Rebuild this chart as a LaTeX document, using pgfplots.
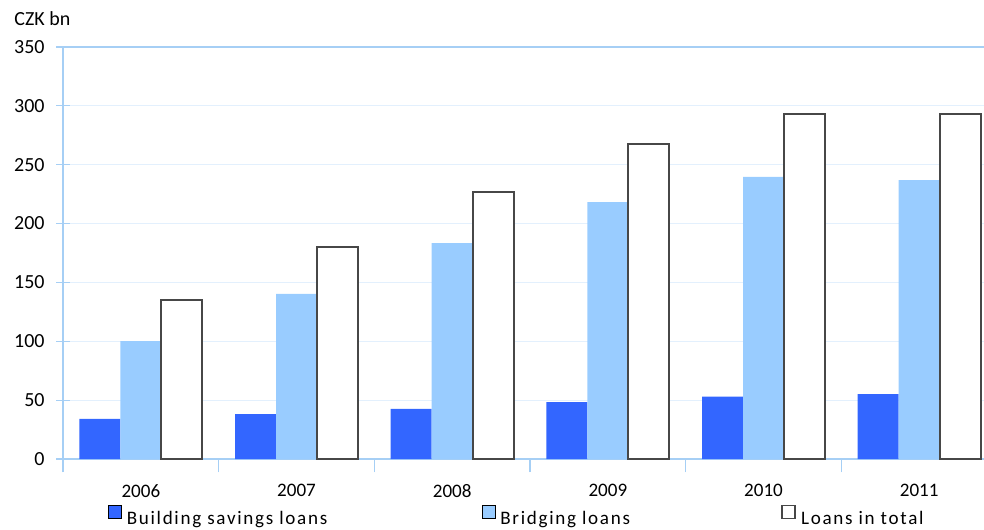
\documentclass[border=0pt]{standalone}
\usepackage{fontspec}
\setmainfont{Carlito}
\newfontfamily\legfont[LetterSpace=9]{Carlito}
\usepackage{pgfplots}
\pgfplotsset{compat=1.18}

\definecolor{bsav}{HTML}{3366FF}
\definecolor{bridge}{HTML}{99CCFF}
\definecolor{axblue}{HTML}{A6CFF5}
\definecolor{gridblue}{HTML}{E3F0FD}
\definecolor{bord}{HTML}{474747}

\begin{document}
\begin{tikzpicture}
\begin{axis}[
    scale only axis,
    width=700.5pt, height=309pt,
    xmin=-0.5, xmax=5.5,
    ymin=0, ymax=350,
    clip mode=individual,
    font=\fontsize{14.3}{16}\selectfont,
    /pgf/number format/assume math mode=true,
    axis line style={axblue, line width=1pt},
    tick style={axblue, line width=0.8pt},
    tick align=center,
    major tick length=10pt,
    ytick={0,50,...,350},
    ytick pos=left,
    yticklabel style={xshift=-5.25pt, font=\fontsize{15}{16}\selectfont},
    xtick pos=bottom,
    ymajorgrids,
    major grid style={gridblue, line width=0.8pt},
    xtick={-0.5,0.5,...,5.5},
    xticklabels={},
    extra x ticks={0,1,2,3,4,5},
    extra x tick labels={2006,2007,2008,2009,2010,2011},
    extra x tick style={major tick length=0pt, grid=none,
        tick label style={yshift=-15.5pt}},
    ybar,
    bar width=0.2633,
    legend columns=3,
    legend style={at={(0.04818,-0.14)}, anchor=west, draw=none, fill=none,
        inner sep=0pt, font=\legfont\fontsize{14.3}{16}\selectfont,
        nodes={inner xsep=0pt}, /tikz/column sep=0pt},
    legend image code/.code={\draw[#1] (0pt,0pt) rectangle (9.75pt,9.75pt);},
]
\addplot[fill=bsav, draw=none, bar shift=-0.2633] coordinates {
    (0,34.0) (1,38.2) (2,42.5) (3,48.4) (4,52.9) (5,55.2)
};
\addlegendentry{\makebox[270pt][l]{\hspace{3.75pt}Building savings loans}}
\addplot[fill=bridge, draw=none, bar shift=0] coordinates {
    (0,100.2) (1,140.2) (2,183.5) (3,218.3) (4,239.6) (5,237.0)
};
\addlegendentry{\makebox[214.5pt][l]{\hspace{3.75pt}Bridging loans}}
\addplot[fill=white, draw=bord, line width=1.3pt, bar shift=0.2633] coordinates {
    (0,135.0) (1,180.0) (2,227.0) (3,267.6) (4,292.8) (5,292.8)
};
\addlegendentry{\hspace{3.75pt}Loans in total}
\node[anchor=base west, font=\fontsize{15}{16}\selectfont]
    at (rel axis cs:0,1) [xshift=-40pt, yshift=16.5pt] {CZK bn};
\end{axis}
\pgfresetboundingbox
\useasboundingbox (-47.25pt,-52.5pt) rectangle (690.75pt,344.25pt);
\end{tikzpicture}
\end{document}
